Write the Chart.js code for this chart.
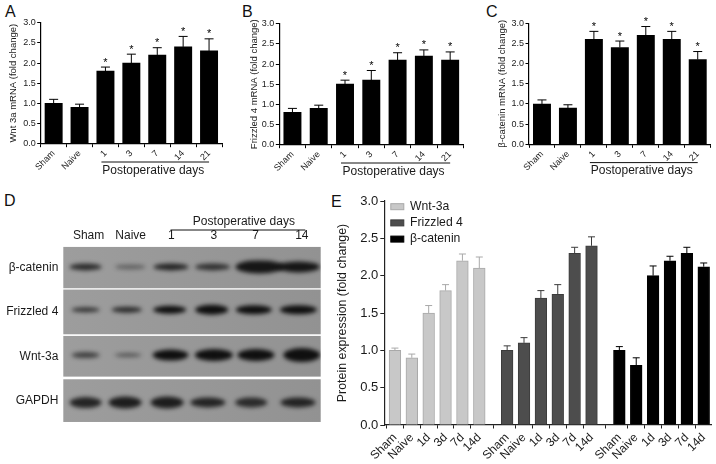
<!DOCTYPE html>
<html>
<head>
<meta charset="utf-8">
<title>Wnt pathway expression</title>
<script src="https://cdn.jsdelivr.net/npm/chart.js@4"></script>
<style>
    html, body { margin: 0; padding: 0; background: #fff; width: 716px; height: 464px; overflow: hidden; }
    canvas { position: absolute; display: block; }
    .panel-letter { position: absolute; font: 16px 'Liberation Sans', sans-serif; color: #111; line-height: 16px; }
</style>
</head>
<body>
<div class="panel-letter" style="left:5px;top:4px">A</div>
<div class="panel-letter" style="left:242px;top:4px">B</div>
<div class="panel-letter" style="left:486px;top:4px">C</div>
<div class="panel-letter" style="left:4px;top:193px">D</div>
<div class="panel-letter" style="left:331px;top:194px">E</div>
<canvas id="chartA"></canvas>
<canvas id="chartB"></canvas>
<canvas id="chartC"></canvas>
<canvas id="chartD"></canvas>
<canvas id="chartE"></canvas>
<script>
// Panels A-C: mRNA fold change
const mrnaGroups = ['Sham', 'Naive', '1', '3', '7', '14', '21'];
const wntMrna = [1.0, 0.9, 1.8, 2.0, 2.2, 2.4, 2.3];
const wntMrnaErr = [0.1, 0.08, 0.1, 0.22, 0.18, 0.26, 0.3];
const frizzledMrna = [0.8, 0.9, 1.5, 1.6, 2.1, 2.2, 2.1];
const frizzledMrnaErr = [0.1, 0.08, 0.1, 0.24, 0.18, 0.15, 0.2];
const cateninMrna = [1.0, 0.9, 2.6, 2.4, 2.7, 2.6, 2.1];
const cateninMrnaErr = [0.1, 0.08, 0.2, 0.16, 0.22, 0.2, 0.2];
const mrnaStars = [false, false, true, true, true, true, true];
const yTicksMax = 3;
const postopLabel = 'Postoperative days';

// Panel D: western blot
const blotLanes = ['Sham', 'Naive', '1', '3', '7', '14'];
const blotLaneTicks = [0.09, 1.07, 2.02, 3.01, 3.98, 5.06];
const blotRows = ['β-catenin', 'Frizzled 4', 'Wnt-3a', 'GAPDH'];
const bandLanes = [
    [0.02, 1.06, 2.01, 2.98, 4.07, 4.98],
    [0.02, 0.98, 1.98, 2.96, 3.94, 4.98],
    [0.02, 1.01, 2.0, 3.01, 3.99, 5.06],
    [0.02, 0.94, 1.92, 2.87, 3.88, 4.97]
];
const bandDarkness = [
    [0.8, 0.4, 0.85, 0.75, 0.95, 0.95],
    [0.75, 0.8, 1, 1, 1, 1],
    [0.65, 0.5, 1, 1, 1, 1],
    [0.85, 0.9, 0.9, 0.85, 0.8, 0.85]
];

// Panel E: protein expression
const proteinGroups = ['Sham', 'Naive', '1d', '3d', '7d', '14d'];
const proteinNames = ['Wnt-3a', 'Frizzled 4', 'β-catenin'];
const wntProtein = [1.0, 0.9, 1.5, 1.8, 2.2, 2.1];
const wntProteinErr = [0.03, 0.05, 0.1, 0.08, 0.09, 0.15];
const frizzledProtein = [1.0, 1.1, 1.7, 1.75, 2.3, 2.4];
const frizzledProteinErr = [0.06, 0.07, 0.1, 0.13, 0.08, 0.12];
const cateninProtein = [1.0, 0.8, 2.0, 2.2, 2.3, 2.12];
const cateninProteinErr = [0.05, 0.1, 0.13, 0.06, 0.08, 0.05];

// Styles and layout
const bandWidths = [
    [32, 30, 35, 35, 48, 43],
    [28, 30, 33, 33, 36, 37],
    [28, 27, 36, 38, 37, 37],
    [32, 33, 33, 35, 32, 35]
];
const bandHeights = [
    [7, 5, 7, 7, 13, 11],
    [5, 6, 8, 10, 9, 9],
    [6, 4, 11, 12, 12, 14],
    [11, 12, 12, 10, 10, 10]
];
const rowHeights = [41.3, 44.7, 40.7, 42.7];
const rowBandOffsets = [-0.7, -2.2, -1.2, 1.9];
const proteinFills = ['#c8c8c8', '#4d4d4d', '#000000'];
const proteinBorders = ['#a9a9a9', '#3c3c3c', '#000000'];
const textColor = '#1a1a1a';

Chart.defaults.font.family = "'Liberation Sans', Arial, sans-serif";
Chart.defaults.color = textColor;
Chart.defaults.animation = false;
Chart.defaults.devicePixelRatio = 1;

function placeCanvas(id, left, top, width, height) {
    const canvas = document.getElementById(id);
    canvas.width = width;
    canvas.height = height;
    canvas.style.left = left + 'px';
    canvas.style.top = top + 'px';
    canvas.style.width = width + 'px';
    canvas.style.height = height + 'px';
    return canvas;
}

// Upper error caps for every bar, drawn from the value scale
function drawErrorBars(chart, errorsByDataset, capWidth, colors) {
    const { ctx, scales } = chart;
    ctx.save();
    chart.data.datasets.forEach((dataset, d) => {
        const meta = chart.getDatasetMeta(d);
        ctx.strokeStyle = colors[d];
        ctx.lineWidth = 1;
        meta.data.forEach((bar, i) => {
            const value = dataset.data[i].y !== undefined ? dataset.data[i].y : dataset.data[i];
            const top = scales.y.getPixelForValue(value + errorsByDataset[d][i]);
            ctx.beginPath();
            ctx.moveTo(bar.x, bar.y);
            ctx.lineTo(bar.x, top);
            ctx.moveTo(bar.x - capWidth / 2, top);
            ctx.lineTo(bar.x + capWidth / 2, top);
            ctx.stroke();
        });
    });
    ctx.restore();
}

function createMrnaChart(id, rect, area, yTitle, values, errors) {
    const canvas = placeCanvas(id, rect.left, rect.top, rect.width, rect.height);
    new Chart(canvas.getContext('2d'), {
        type: 'bar',
        data: {
            labels: mrnaGroups,
            datasets: [{
                data: values,
                backgroundColor: '#000',
                barThickness: 17.3
            }]
        },
        options: {
            responsive: false,
            layout: {
                padding: {
                    left: 0,
                    top: area.top - rect.top,
                    right: rect.left + rect.width - area.right,
                    bottom: 0
                }
            },
            plugins: { legend: { display: false }, tooltip: { enabled: false } },
            scales: {
                x: {
                    afterFit: scale => { scale.height = rect.top + rect.height - area.bottom; },
                    grid: { drawOnChartArea: false, tickLength: 3.5, tickColor: '#000', tickWidth: 1 },
                    border: { color: '#000', width: 1.2 },
                    ticks: {
                        font: { size: 9 },
                        autoSkip: false,
                        minRotation: 45,
                        maxRotation: 45,
                        padding: 1
                    }
                },
                y: {
                    min: 0,
                    max: yTicksMax,
                    afterFit: scale => { scale.width = area.left - rect.left; },
                    grid: { drawOnChartArea: false, tickLength: 3.5, tickColor: '#000', tickWidth: 1 },
                    border: { color: '#000', width: 1.2 },
                    title: {
                        display: true,
                        text: yTitle,
                        font: { size: 9.5 },
                        padding: { top: area.titleGap, bottom: 0 }
                    },
                    ticks: {
                        font: { size: 9 },
                        stepSize: 0.5,
                        padding: 1.5,
                        callback: value => value.toFixed(1)
                    }
                }
            }
        },
        plugins: [{
            id: 'mrnaAnnotations',
            afterDatasetsDraw(chart) {
                drawErrorBars(chart, [errors], 9, ['#000']);
                const { ctx, scales } = chart;
                ctx.save();
                ctx.fillStyle = '#000';
                ctx.textAlign = 'center';
                ctx.textBaseline = 'alphabetic';
                ctx.font = "11px 'Liberation Sans'";
                mrnaStars.forEach((star, i) => {
                    if (!star) return;
                    const x = scales.x.getPixelForValue(i);
                    const y = scales.y.getPixelForValue(values[i] + errors[i]);
                    ctx.fillText('*', x, y - 1.5);
                });

                // Bracket under the postoperative groups
                const bottom = chart.chartArea.bottom;
                const x1 = scales.x.getPixelForValue(2) - 4;
                const x2 = scales.x.getPixelForValue(6);
                ctx.strokeStyle = '#111';
                ctx.lineWidth = 1;
                ctx.beginPath();
                ctx.moveTo(x1, bottom + 18.3);
                ctx.lineTo(x2, bottom + 18.3);
                ctx.stroke();
                ctx.fillStyle = textColor;
                ctx.font = "12px 'Liberation Sans'";
                ctx.fillText(postopLabel, (x1 + x2) / 2 - 2, bottom + 30);
                ctx.restore();
            }
        }]
    });
}

function createBlotChart() {
    const rect = { left: 0, top: 185, width: 330, height: 250 };
    const canvas = placeCanvas('chartD', rect.left, rect.top, rect.width, rect.height);
    new Chart(canvas.getContext('2d'), {
        type: 'bar',
        data: { labels: blotLanes, datasets: [] },
        options: {
            responsive: false,
            layout: { padding: { left: 0, top: 30, right: 9.3, bottom: 5.6 } },
            plugins: { legend: { display: false }, tooltip: { enabled: false } },
            scales: {
                x: {
                    type: 'linear',
                    position: 'top',
                    min: -0.5,
                    max: 5.5,
                    offset: false,
                    afterFit: scale => { scale.height = 30.4; },
                    afterBuildTicks: scale => { scale.ticks = blotLaneTicks.map(value => ({ value })); },
                    grid: { display: false, drawTicks: false },
                    border: { display: false },
                    ticks: {
                        font: { size: 12 },
                        padding: 3,
                        autoSkip: false,
                        maxRotation: 0,
                        callback: (value, index) => blotLanes[index]
                    }
                },
                y: {
                    type: 'category',
                    labels: blotRows,
                    offset: true,
                    afterFit: scale => { scale.width = 63.3; },
                    grid: { display: false, drawTicks: false },
                    border: { display: false },
                    ticks: { font: { size: 12 }, padding: 5, autoSkip: false }
                }
            }
        },
        plugins: [{
            id: 'blotBands',
            beforeDatasetsDraw(chart) {
                const { ctx, scales, chartArea } = chart;
                ctx.save();
                blotRows.forEach((row, r) => {
                    const yMid = scales.y.getPixelForValue(r);
                    const h = rowHeights[r];
                    const fade = ctx.createLinearGradient(chartArea.left, 0, chartArea.right, 0);
                    fade.addColorStop(0, '#9d9d9d');
                    fade.addColorStop(1, '#929292');
                    ctx.fillStyle = fade;
                    ctx.fillRect(chartArea.left, yMid - h / 2, chartArea.width, h);

                    ctx.save();
                    ctx.beginPath();
                    ctx.rect(chartArea.left, yMid - h / 2, chartArea.width, h);
                    ctx.clip();
                    ctx.filter = 'blur(2.2px)';
                    bandLanes[r].forEach((lane, i) => {
                        const x = scales.x.getPixelForValue(lane);
                        const y = yMid + rowBandOffsets[r];
                        ctx.fillStyle = `rgba(15, 15, 15, ${bandDarkness[r][i]})`;
                        ctx.beginPath();
                        ctx.ellipse(x, y, bandWidths[r][i] / 2, bandHeights[r][i] / 2, 0, 0, Math.PI * 2);
                        ctx.fill();
                    });
                    ctx.restore();
                });

                // Header over the postoperative lanes
                const x1 = scales.x.getPixelForValue(2);
                const x2 = scales.x.getPixelForValue(5) + 6;
                ctx.strokeStyle = '#111';
                ctx.lineWidth = 1;
                ctx.beginPath();
                ctx.moveTo(x1, chartArea.top - 15.4);
                ctx.lineTo(x2, chartArea.top - 15.4);
                ctx.stroke();
                ctx.fillStyle = textColor;
                ctx.textAlign = 'center';
                ctx.font = "12px 'Liberation Sans'";
                ctx.fillText(postopLabel, (x1 + x2) / 2 + 6, chartArea.top - 20.4);
                ctx.restore();
            }
        }]
    });
}

function createProteinChart() {
    const rect = { left: 330, top: 185, width: 386, height: 279 };
    const canvas = placeCanvas('chartE', rect.left, rect.top, rect.width, rect.height);
    const seriesValues = [wntProtein, frizzledProtein, cateninProtein];
    const seriesErrors = [wntProteinErr, frizzledProteinErr, cateninProteinErr];

    // The three groups sit on one slot axis with a gap between them
    const firstSlot = 0.63;
    const groupStep = 6.65;
    const slotOf = (group, i) => firstSlot + group * groupStep + i;
    const allSlots = [];
    const allLabels = [];
    proteinNames.forEach((name, g) => {
        proteinGroups.forEach((label, i) => {
            allSlots.push(slotOf(g, i));
            allLabels.push(label);
        });
    });

    new Chart(canvas.getContext('2d'), {
        type: 'bar',
        data: {
            datasets: seriesValues.map((values, g) => ({
                label: proteinNames[g],
                data: values.map((v, i) => ({ x: slotOf(g, i), y: v })),
                backgroundColor: proteinFills[g],
                borderColor: proteinBorders[g],
                borderWidth: 1,
                barThickness: 11.7,
                grouped: false
            }))
        },
        options: {
            responsive: false,
            layout: { padding: { left: 0, top: 16, right: 4.3, bottom: 0 } },
            plugins: { legend: { display: false }, tooltip: { enabled: false } },
            scales: {
                x: {
                    type: 'linear',
                    min: 0,
                    max: 19.37,
                    offset: false,
                    afterFit: scale => { scale.height = 39; },
                    afterBuildTicks: scale => { scale.ticks = allSlots.map(value => ({ value })); },
                    grid: { drawOnChartArea: false, tickLength: 3.5, tickColor: '#222', tickWidth: 1 },
                    border: { color: '#222', width: 1.2 },
                    ticks: {
                        font: { size: 12 },
                        autoSkip: false,
                        minRotation: 45,
                        maxRotation: 45,
                        padding: 2,
                        callback: (value, index) => allLabels[index]
                    }
                },
                y: {
                    min: 0,
                    max: yTicksMax,
                    afterFit: scale => { scale.width = 54.3; },
                    grid: { drawOnChartArea: false, tickLength: 4, tickColor: '#222', tickWidth: 1 },
                    border: { color: '#222', width: 1.2 },
                    title: {
                        display: true,
                        text: 'Protein expression (fold change)',
                        font: { size: 12.4 },
                        padding: { top: 5.5, bottom: 0 }
                    },
                    ticks: {
                        font: { size: 13 },
                        stepSize: 0.5,
                        padding: 2,
                        callback: value => value.toFixed(1)
                    }
                }
            }
        },
        plugins: [{
            id: 'proteinAnnotations',
            beforeDatasetsDraw(chart) {
                drawErrorBars(chart, seriesErrors, 7, proteinBorders);
            },
            afterDatasetsDraw(chart) {
                // Legend in the upper left of the plot
                const { ctx, chartArea } = chart;
                ctx.save();
                ctx.font = "12.2px 'Liberation Sans'";
                ctx.textBaseline = 'middle';
                proteinNames.forEach((name, g) => {
                    const y = chartArea.top + 5.7 + g * 16.2;
                    ctx.fillStyle = proteinFills[g];
                    ctx.strokeStyle = proteinBorders[g];
                    ctx.lineWidth = 1;
                    ctx.fillRect(chartArea.left + 6.5, y - 3, 13, 6);
                    ctx.strokeRect(chartArea.left + 6.5, y - 3, 13, 6);
                    ctx.fillStyle = textColor;
                    ctx.fillText(name, chartArea.left + 25.7, y);
                });
                ctx.restore();
            }
        }]
    });
}

createMrnaChart('chartA', { left: 0, top: 0, width: 235, height: 185 },
    { left: 40.7, right: 222, top: 22.7, bottom: 143.7, titleGap: 8 },
    'Wnt 3a mRNA (fold change)', wntMrna, wntMrnaErr);
createMrnaChart('chartB', { left: 240, top: 0, width: 235, height: 185 },
    { left: 279.3, right: 463.3, top: 23.7, bottom: 144.7, titleGap: 9 },
    'Frizzled 4 mRNA (fold change)', frizzledMrna, frizzledMrnaErr);
createMrnaChart('chartC', { left: 480, top: 0, width: 236, height: 185 },
    { left: 529, right: 710.7, top: 23.3, bottom: 144.3, titleGap: 17 },
    'β-catenin mRNA (fold change)', cateninMrna, cateninMrnaErr);
createBlotChart();
createProteinChart();
</script>
</body>
</html>
